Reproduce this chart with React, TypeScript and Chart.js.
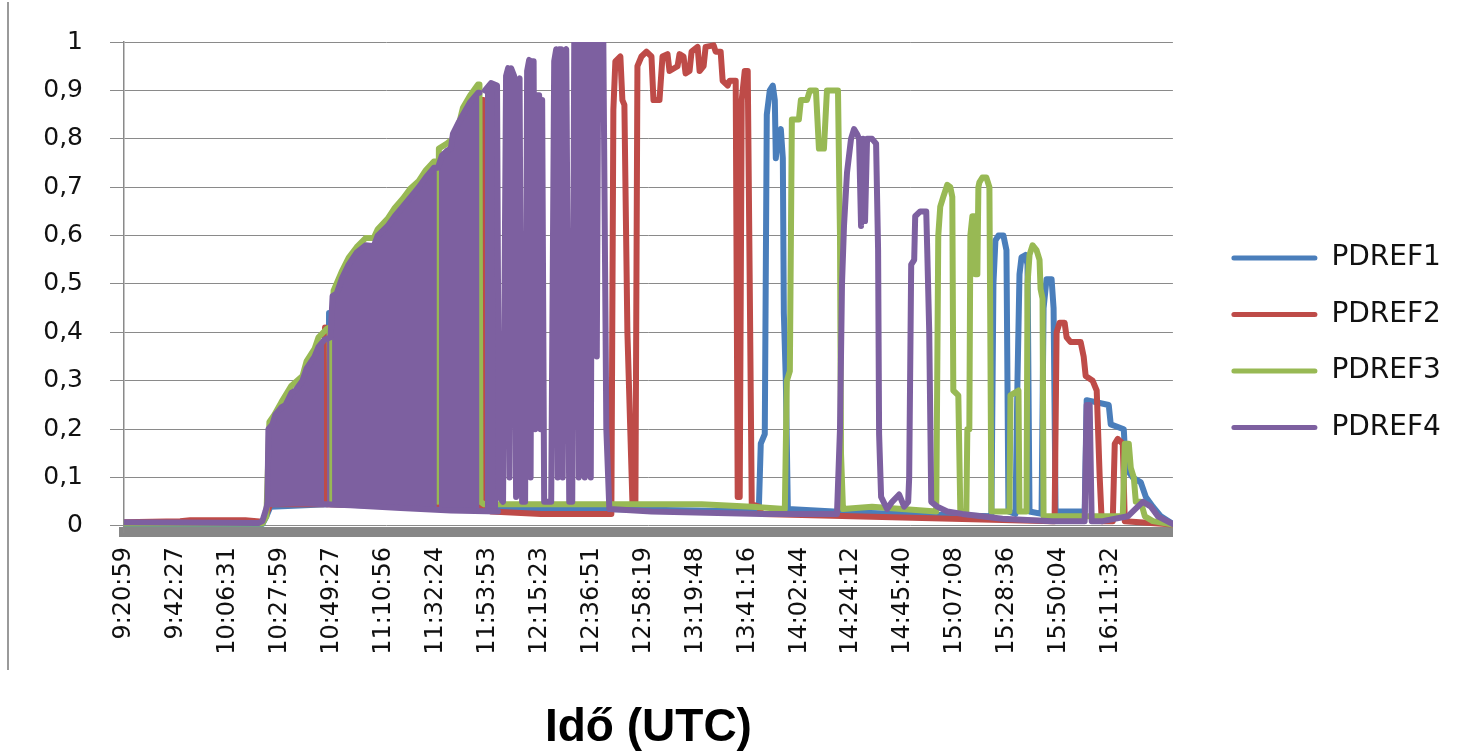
import React, { useEffect, useRef } from 'react';
import { Chart, registerables } from 'chart.js';

Chart.register(...registerables);

// Időcímkék a vízszintes tengelyen (kategória-tengely, minden LABEL_STEP-edik minta)
const TIME_LABELS = [
  '9:20:59', '9:42:27', '10:06:31', '10:27:59', '10:49:27', '11:10:56', '11:32:24',
  '11:53:53', '12:15:23', '12:36:51', '12:58:19', '13:19:48', '13:41:16', '14:02:44',
  '14:24:12', '14:45:40', '15:07:08', '15:28:36', '15:50:04', '16:11:32',
];
const LABEL_STEP = 1295; // minták száma két felirat között
const LAST_SAMPLE = 26150;

const Y_TICKS = [0, 0.1, 0.2, 0.3, 0.4, 0.5, 0.6, 0.7, 0.8, 0.9, 1];
const Y_TICK_LABELS = ['0', '0,1', '0,2', '0,3', '0,4', '0,5', '0,6', '0,7', '0,8', '0,9', '1'];

const SERIES_NAMES = ['PDREF1', 'PDREF2', 'PDREF3', 'PDREF4'];
const SERIES_COLORS = ['#4a7ebb', '#be4b48', '#98b954', '#7d60a0'];

// [minta sorszám, érték]
const PDREF1 = [
  [0, 0.004], [3450, 0.004], [3550, 0.02], [3650, 0.04], [5075, 0.045], [5112, 0.44], [5150, 0.045],
  [8900, 0.035], [11900, 0.035], [15825, 0.03], [15875, 0.17], [15975, 0.19], [16025, 0.85],
  [16100, 0.9], [16175, 0.91], [16225, 0.88], [16250, 0.76], [16300, 0.8], [16375, 0.82],
  [16425, 0.76], [16450, 0.44], [16500, 0.3], [16550, 0.035], [18150, 0.028], [20650, 0.022],
  [21625, 0.02], [21675, 0.5], [21725, 0.59], [21800, 0.6], [21925, 0.6], [22000, 0.57],
  [22050, 0.03], [22225, 0.025], [22275, 0.3], [22325, 0.52], [22375, 0.555], [22475, 0.56],
  [22525, 0.54], [22575, 0.03], [22875, 0.025], [22925, 0.45], [23000, 0.51], [23125, 0.51],
  [23175, 0.45], [23225, 0.03], [23950, 0.03], [24000, 0.26], [24550, 0.25], [24600, 0.21],
  [24925, 0.2], [24975, 0.12], [25150, 0.1], [25350, 0.09], [25475, 0.06], [25650, 0.04],
  [25850, 0.02], [26150, 0.004],
];

const PDREF2 = [
  [0, 0.008], [1400, 0.01], [1650, 0.012], [3025, 0.012], [3450, 0.009], [3550, 0.025], [3650, 0.045],
  [4975, 0.045], [5012, 0.41], [5050, 0.045], [8112, 0.04], [8150, 0.785], [8188, 0.04],
  [8912, 0.035], [8938, 0.88], [8962, 0.88], [8988, 0.035], [9150, 0.03], [10400, 0.025],
  [12150, 0.025], [12200, 0.86], [12250, 0.96], [12375, 0.97], [12425, 0.88], [12475, 0.87],
  [12550, 0.4], [12675, 0.05], [12750, 0.05], [12800, 0.95], [12900, 0.97], [13025, 0.98],
  [13150, 0.97], [13200, 0.88], [13350, 0.88], [13425, 0.97], [13550, 0.975], [13600, 0.94],
  [13800, 0.95], [13850, 0.975], [13950, 0.97], [14000, 0.935], [14100, 0.94], [14150, 0.98],
  [14300, 0.99], [14350, 0.94], [14450, 0.95], [14500, 0.99], [14700, 0.993], [14750, 0.98],
  [14875, 0.98], [14925, 0.92], [15050, 0.91], [15100, 0.92], [15250, 0.92], [15300, 0.06],
  [15350, 0.06], [15400, 0.88], [15475, 0.94], [15550, 0.94], [15600, 0.5], [15650, 0.045],
  [15825, 0.04], [15900, 0.025], [18150, 0.02], [20650, 0.015], [23150, 0.01], [23200, 0.01],
  [23250, 0.4], [23325, 0.42], [23450, 0.42], [23500, 0.39], [23600, 0.38], [23850, 0.38],
  [23925, 0.35], [23975, 0.31], [24150, 0.3], [24250, 0.28], [24325, 0.1], [24375, 0.01],
  [24650, 0.01], [24700, 0.17], [24775, 0.18], [24900, 0.17], [24950, 0.01], [26150, 0.003],
];

const PDREF3 = [
  [0, 0.005], [3450, 0.005], [3550, 0.02], [3625, 0.215], [3750, 0.23], [3925, 0.256], [4175, 0.29],
  [4450, 0.31], [4550, 0.34], [4750, 0.366], [4850, 0.39], [5050, 0.407], [5125, 0.41],
  [5155, 0.05], [5185, 0.41], [5225, 0.486], [5425, 0.525], [5600, 0.554], [5800, 0.576],
  [6025, 0.595], [6225, 0.595], [6325, 0.613], [6575, 0.635], [6750, 0.657], [6950, 0.676],
  [7150, 0.698], [7350, 0.713], [7525, 0.735], [7725, 0.753], [7800, 0.753], [7825, 0.05],
  [7850, 0.78], [8050, 0.79], [8200, 0.8], [8350, 0.83], [8450, 0.864], [8625, 0.889],
  [8825, 0.912], [8862, 0.912], [8888, 0.05], [8975, 0.045], [11900, 0.045], [14400, 0.045],
  [15650, 0.04], [16475, 0.035], [16525, 0.3], [16600, 0.32], [16650, 0.84], [16825, 0.84],
  [16875, 0.88], [17025, 0.88], [17100, 0.9], [17250, 0.9], [17325, 0.78], [17450, 0.78],
  [17525, 0.9], [17800, 0.9], [17850, 0.6], [17875, 0.15], [17925, 0.035], [18650, 0.04],
  [19400, 0.035], [20250, 0.03], [20300, 0.6], [20350, 0.66], [20425, 0.68], [20525, 0.705],
  [20600, 0.7], [20650, 0.68], [20675, 0.28], [20800, 0.27], [20850, 0.03], [21000, 0.03],
  [21025, 0.2], [21075, 0.2], [21100, 0.6], [21150, 0.64], [21200, 0.64], [21225, 0.52],
  [21250, 0.64], [21275, 0.52], [21300, 0.7], [21325, 0.71], [21400, 0.72], [21500, 0.72],
  [21575, 0.7], [21625, 0.03], [22075, 0.03], [22100, 0.27], [22300, 0.28], [22325, 0.03],
  [22500, 0.03], [22525, 0.5], [22575, 0.56], [22650, 0.58], [22750, 0.57], [22825, 0.55],
  [22850, 0.49], [22900, 0.47], [22925, 0.02], [24900, 0.02], [24950, 0.17], [25050, 0.17],
  [25100, 0.12], [25175, 0.1], [25225, 0.05], [25350, 0.05], [25450, 0.02], [25650, 0.01],
  [26150, 0.003],
];

const PDREF4 = [
  [0, 0.008], [3350, 0.006], [3450, 0.01], [3525, 0.03], [3575, 0.045], [3600, 0.2], [3700, 0.21],
  [3775, 0.23], [3925, 0.245], [4025, 0.25], [4175, 0.275], [4275, 0.28], [4450, 0.3],
  [4550, 0.325], [4750, 0.35], [4850, 0.37], [5000, 0.385], [5150, 0.39], [5200, 0.475],
  [5300, 0.48], [5425, 0.51], [5600, 0.54], [5800, 0.565], [6025, 0.58], [6225, 0.578],
  [6325, 0.6], [6575, 0.62], [6750, 0.64], [6950, 0.66], [7150, 0.68], [7350, 0.7],
  [7525, 0.72], [7725, 0.74], [7825, 0.74], [7925, 0.765], [8050, 0.775], [8150, 0.78],
  [8200, 0.81], [8350, 0.835], [8450, 0.85], [8625, 0.875], [8825, 0.895], [8862, 0.895],
  [8925, null], [9000, 0.9], [9050, 0.905], [9150, 0.915], [9300, 0.91], [9350, 0.06],
  [9450, 0.05], [9525, 0.93], [9575, 0.946], [9612, 0.1], [9650, 0.946], [9725, 0.93],
  [9775, 0.06], [9825, 0.92], [9862, 0.925], [9900, 0.3], [9925, 0.05], [10000, 0.05],
  [10050, 0.94], [10100, 0.963], [10137, 0.1], [10175, 0.96], [10212, 0.96], [10250, 0.2],
  [10287, 0.89], [10350, 0.89], [10387, 0.2], [10425, 0.88], [10475, 0.05], [10650, 0.05],
  [10725, 0.96], [10775, 0.985], [10812, 0.1], [10850, 0.985], [10900, 0.985], [10937, 0.1],
  [10975, 0.98], [11025, 0.985], [11100, 0.05], [11175, 0.05], [11225, 1], [11300, 1],
  [11337, 0.1], [11375, 1], [11450, 1], [11487, 0.1], [11525, 1], [11600, 1], [11637, 0.1],
  [11675, 1], [11750, 1], [11787, 0.35], [11825, 1], [11950, 1], [12025, 0.2], [12100, 0.035],
  [13150, 0.03], [15900, 0.025], [17775, 0.025], [17850, 0.2], [17900, 0.5], [17950, 0.62],
  [18025, 0.73], [18125, 0.8], [18200, 0.82], [18275, 0.81], [18325, 0.8], [18375, 0.62],
  [18425, 0.8], [18475, 0.63], [18525, 0.8], [18650, 0.8], [18750, 0.79], [18800, 0.57],
  [18825, 0.19], [18875, 0.06], [19025, 0.035], [19150, 0.05], [19325, 0.065], [19450, 0.04],
  [19550, 0.05], [19575, 0.1], [19625, 0.54], [19700, 0.55], [19725, 0.64], [19850, 0.65],
  [20000, 0.65], [20025, 0.57], [20075, 0.4], [20125, 0.05], [20275, 0.04], [20525, 0.03],
  [20900, 0.025], [21900, 0.015], [23150, 0.01], [23950, 0.01], [24000, 0.25], [24075, 0.25],
  [24125, 0.01], [24400, 0.01], [25025, 0.02], [25275, 0.04], [25400, 0.05], [25600, 0.04],
  [25775, 0.02], [26150, 0.004],
];

// PDREF4 sűrű oszcillációjának alsó és felső burkolója (10:27–11:53 között)
const PDREF4_LOW = [
  [3575, 0.045], [4400, 0.047], [5650, 0.043], [6900, 0.037], [8150, 0.032], [9325, 0.03],
];
const PDREF4_HIGH = [
  [3600, 0.2], [3700, 0.21], [3775, 0.23], [3925, 0.245], [4025, 0.25], [4175, 0.275],
  [4275, 0.28], [4450, 0.3], [4550, 0.325], [4750, 0.35], [4850, 0.37], [4987, 0.384],
  [5025, null], [5062, 0.386], [5125, 0.388], [5155, null], [5187, 0.45], [5200, 0.475],
  [5300, 0.48], [5425, 0.51], [5600, 0.54], [5800, 0.565], [6025, 0.58], [6225, 0.578],
  [6325, 0.6], [6575, 0.62], [6750, 0.64], [6950, 0.66], [7150, 0.68], [7350, 0.7],
  [7525, 0.72], [7725, 0.74], [7800, 0.74], [7825, null], [7850, 0.745], [7925, 0.765],
  [8050, 0.775], [8150, 0.78], [8200, 0.81], [8350, 0.835], [8450, 0.85], [8625, 0.875],
  [8825, 0.895], [8862, 0.895], [8925, null], [9000, 0.9], [9050, 0.905], [9150, 0.915],
  [9300, 0.91], [9325, 0.91],
];

export default function App() {
  const canvasRef = useRef<HTMLCanvasElement | null>(null);

  useEffect(() => {
    const canvas = canvasRef.current;
    if (!canvas) return;

    const line = (label: string, data: any[], color: string, order: number, extra: any = {}) => ({
      label,
      data,
      borderColor: color,
      backgroundColor: color,
      borderWidth: 6,
      pointRadius: 0,
      pointHoverRadius: 0,
      tension: 0,
      fill: false,
      order,
      clip: 0,
      spanGaps: false,
      borderJoinStyle: 'round',
      borderCapStyle: 'round',
      xAxisID: 'x',
      yAxisID: 'y',
      ...extra,
    });

    const chart = new Chart(canvas, {
      type: 'line',
      data: {
        datasets: [
          line(SERIES_NAMES[0], PDREF1, SERIES_COLORS[0], 6),
          line(SERIES_NAMES[1], PDREF2, SERIES_COLORS[1], 5),
          line(SERIES_NAMES[2], PDREF3, SERIES_COLORS[2], 4),
          line(SERIES_NAMES[3], PDREF4, SERIES_COLORS[3], 1),
          line('PDREF4 (alsó burkoló)', PDREF4_LOW, SERIES_COLORS[3], 2),
          line('PDREF4 (sáv)', PDREF4_HIGH, SERIES_COLORS[3], 3, {
            borderColor: 'rgba(0,0,0,0)',
            borderWidth: 0,
            fill: { target: 4 },
          }),
        ],
      },
      options: {
        responsive: false,
        animation: false,
        devicePixelRatio: 1,
        events: [],
        layout: { padding: { top: 42, right: 15.5, bottom: 0, left: 0 } },
        plugins: {
          tooltip: { enabled: false },
          legend: {
            display: true,
            position: 'right',
            align: 'start',
            fullSize: true,
            title: { display: true, text: ' ', padding: 80.75, font: { size: 10 } },
            labels: {
              boxWidth: 86,
              boxHeight: 5,
              padding: 28.5,
              color: '#111',
              useBorderRadius: true,
              borderRadius: 2.5,
              font: { family: 'DejaVu Sans', size: 28 },
              generateLabels: () =>
                SERIES_NAMES.map((name, i) => ({
                  text: name,
                  fillStyle: SERIES_COLORS[i],
                  strokeStyle: SERIES_COLORS[i],
                  fontColor: '#111',
                  lineWidth: 0,
                  hidden: false,
                  datasetIndex: i,
                  borderRadius: 2.5,
                })),
            },
          },
        },
        scales: {
          x: {
            type: 'linear',
            position: 'bottom',
            min: 0,
            max: LAST_SAMPLE,
            afterBuildTicks: (scale: any) => {
              scale.ticks = TIME_LABELS.map((_, i) => ({ value: i * LABEL_STEP }));
            },
            afterFit: (scale: any) => {
              scale.height = 224;
            },
            grid: { display: false, drawTicks: false },
            border: { display: true, color: '#878787', width: 10 },
            ticks: {
              autoSkip: false,
              minRotation: 90,
              maxRotation: 90,
              padding: 15,
              color: '#111',
              font: { family: 'DejaVu Sans', size: 24 },
              callback: (value: any) => TIME_LABELS[Math.round(Number(value) / LABEL_STEP)] ?? '',
            },
            title: {
              display: true,
              text: 'Idő (UTC)',
              color: '#000',
              font: { family: 'Liberation Sans', weight: 'bold', size: 46 },
              padding: { top: 0, bottom: 0 },
            },
          },
          y: {
            type: 'linear',
            position: 'left',
            min: -0.0124,
            max: 1,
            afterBuildTicks: (scale: any) => {
              scale.ticks = Y_TICKS.map((v) => ({ value: v }));
            },
            afterFit: (scale: any) => {
              scale.width = 124;
            },
            grid: { color: '#8a8a8a', lineWidth: 1, tickLength: 14, drawTicks: true },
            border: { display: true, color: '#8a8a8a', width: 1.5 },
            ticks: {
              padding: 27,
              color: '#111',
              font: { family: 'DejaVu Sans', size: 25 },
              callback: (_v: any, i: number) => Y_TICK_LABELS[i],
            },
          },
          gap: {
            type: 'linear',
            position: 'right',
            display: true,
            grid: { display: false, drawTicks: false },
            border: { display: false },
            ticks: { display: false },
            afterFit: (scale: any) => {
              scale.width = 30;
            },
          },
        },
      },
    } as any);

    return () => chart.destroy();
  }, []);

  return (
    <div style={{ position: 'absolute', left: 0, top: 0, width: 1459, height: 756, background: '#fff' }}>
      <canvas ref={canvasRef} width={1459} height={756} style={{ position: 'absolute', left: 0, top: 0 }} />
      <div style={{ position: 'absolute', left: 7, top: 2, width: 2, height: 668, background: '#9a9a9a' }} />
    </div>
  );
}
